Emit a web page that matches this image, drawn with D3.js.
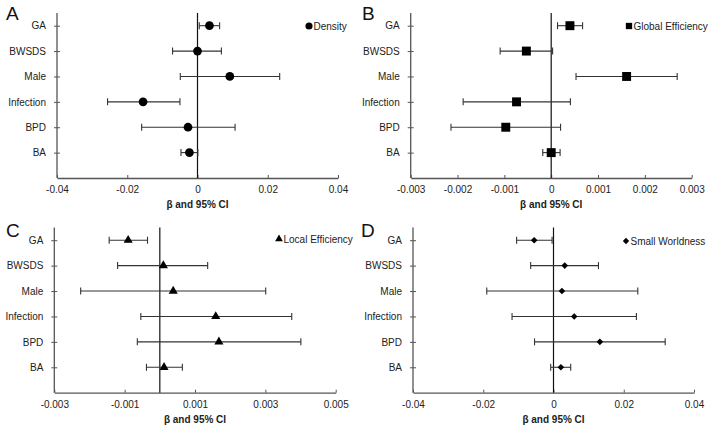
<!DOCTYPE html>
<html><head><meta charset="utf-8">
<script src="https://cdn.jsdelivr.net/npm/d3@7"></script>
<style>
body{margin:0;background:#fff;}
text{font-family:"Liberation Sans",Arial,sans-serif;}
</style></head>
<body><svg id="c" width="714" height="434"></svg>
<script>
const categories = ["GA","BWSDS","Male","Infection","BPD","BA"];

// Density
const densityEst = [0.0034, 0.0000, 0.0092, -0.0155, -0.0027, -0.0023];
const densityLo  = [0.0005, -0.0071, -0.0049, -0.0256, -0.0159, -0.0047];
const densityHi  = [0.0063, 0.0068, 0.0234, -0.0050, 0.0107, 0.0001];
const densityTicks = [-0.04, -0.02, 0, 0.02, 0.04];

// Global efficiency
const globalEst = [0.00040, -0.00053, 0.00161, -0.00074, -0.00097, 0.00000];
const globalLo  = [0.000135, -0.00109, 0.00053, -0.00188, -0.00214, -0.00018];
const globalHi  = [0.00067, 0.00003, 0.00269, 0.00041, 0.00020, 0.00019];
const globalTicks = [-0.003, -0.002, -0.001, 0, 0.001, 0.002, 0.003];

// Local efficiency
const localEst = [-0.00090, 0.00010, 0.00038, 0.00159, 0.00168, 0.00012];
const localLo  = [-0.00144, -0.00120, -0.00225, -0.00054, -0.00064, -0.00038];
const localHi  = [-0.00035, 0.00136, 0.00301, 0.00375, 0.00401, 0.00064];
const localTicks = [-0.003, -0.001, 0.001, 0.003, 0.005];

// Small worldness
const swEst = [-0.0055, 0.0032, 0.0024, 0.0059, 0.0132, 0.0021];
const swLo  = [-0.0105, -0.0065, -0.0190, -0.0118, -0.0054, -0.0008];
const swHi  = [-0.0004, 0.0128, 0.0240, 0.0236, 0.0318, 0.0049];
const swTicks = [-0.04, -0.02, 0, 0.02, 0.04];

const svg = d3.select("#c");

const panels = [
  {letter:"A", lx:6, ly:20, left:57, right:338, top:13, bottom:178, domain:[-0.04,0.04], ticks:densityTicks,
   est:densityEst, lo:densityLo, hi:densityHi, name:"Density", sym:d3.symbolCircle, rot:0, size:60, lsize:40, legX:309, legY:26},
  {letter:"B", lx:362, ly:20, left:410.7, right:691.7, top:13, bottom:178, domain:[-0.003,0.003], ticks:globalTicks,
   est:globalEst, lo:globalLo, hi:globalHi, name:"Global Efficiency", sym:d3.symbolSquare, rot:0, size:80, lsize:40, legX:629, legY:26},
  {letter:"C", lx:6, ly:237, left:54.3, right:335.7, top:227.5, bottom:392.7, domain:[-0.003,0.005], ticks:localTicks,
   est:localEst, lo:localLo, hi:localHi, name:"Local Efficiency", sym:d3.symbolTriangle, rot:0, size:36, lsize:26, legX:279, legY:239},
  {letter:"D", lx:361, ly:237, left:413, right:694, top:227.5, bottom:392.7, domain:[-0.04,0.04], ticks:swTicks,
   est:swEst, lo:swLo, hi:swHi, name:"Small Worldness", sym:d3.symbolSquare, rot:45, size:22, lsize:20, legX:626, legY:241}
];

const fmt = d => d === 0 ? "0" : String(+d.toFixed(4));
const axisColor = "#555";

panels.forEach(p => {
  const g = svg.append("g");
  const x = d3.scaleLinear().domain(p.domain).range([p.left, p.right]);
  const step = (p.bottom - p.top) / 6.5;
  const y = d3.scalePoint().domain(categories).range([p.top + 0.5*step, p.top + 5.5*step]);

  g.append("text").attr("x", p.lx).attr("y", p.ly).attr("font-size", 19).attr("fill","#111").text(p.letter);

  const xa = g.append("g").attr("transform", `translate(0,${p.bottom})`)
    .call(d3.axisBottom(x).tickValues(p.ticks).tickFormat(fmt).tickSizeInner(-3).tickSizeOuter(0).tickPadding(8));
  xa.select(".domain").attr("stroke", axisColor).attr("stroke-width", 1.3);
  xa.selectAll(".tick line").attr("stroke", axisColor);
  xa.selectAll(".tick text").attr("font-size", 10).attr("fill", "#222").attr("font-family","Liberation Sans, Arial, sans-serif");

  const ya = g.append("g").attr("transform", `translate(${p.left},0)`)
    .call(d3.axisLeft(y).tickSize(3).tickPadding(8));
  ya.select(".domain").remove();
  ya.selectAll(".tick line").attr("x1", -3).attr("x2", 3).attr("stroke", axisColor);
  ya.selectAll(".tick text").attr("font-size", 10).attr("fill", "#222").attr("font-family","Liberation Sans, Arial, sans-serif");
  g.append("line").attr("x1", p.left).attr("x2", p.left).attr("y1", p.top).attr("y2", p.bottom)
    .attr("stroke", axisColor).attr("stroke-width", 1.3);

  g.append("line").attr("x1", x(0)).attr("x2", x(0)).attr("y1", p.top).attr("y2", p.bottom)
    .attr("stroke", "#111").attr("stroke-width", 1.2);

  g.append("text").attr("x", (p.left + p.right)/2).attr("y", p.bottom + 30)
    .attr("text-anchor","middle").attr("font-size", 10).attr("font-weight","bold").attr("fill","#222")
    .text("β and 95% CI");

  const rows = categories.map((c,i) => ({c, est:p.est[i], lo:p.lo[i], hi:p.hi[i]}));
  const eb = g.append("g").attr("stroke", "#333").attr("stroke-width", 1.1);
  rows.forEach(r => {
    const yy = y(r.c);
    eb.append("line").attr("x1", x(r.lo)).attr("x2", x(r.hi)).attr("y1", yy).attr("y2", yy);
    eb.append("line").attr("x1", x(r.lo)).attr("x2", x(r.lo)).attr("y1", yy-3.5).attr("y2", yy+3.5);
    eb.append("line").attr("x1", x(r.hi)).attr("x2", x(r.hi)).attr("y1", yy-3.5).attr("y2", yy+3.5);
  });
  g.selectAll("path.pt").data(rows).join("path").attr("class","pt")
    .attr("d", d3.symbol(p.sym, p.size))
    .attr("transform", r => `translate(${x(r.est)},${y(r.c)}) rotate(${p.rot})`)
    .attr("fill", "#000");

  g.append("path").attr("d", d3.symbol(p.sym, p.lsize)).attr("transform", `translate(${p.legX},${p.legY}) rotate(${p.rot})`).attr("fill","#000");
  g.append("text").attr("x", p.legX + 4.5).attr("y", p.legY + 3.6).attr("font-size", 10).attr("fill","#222").text(p.name);
});
</script></body></html>
